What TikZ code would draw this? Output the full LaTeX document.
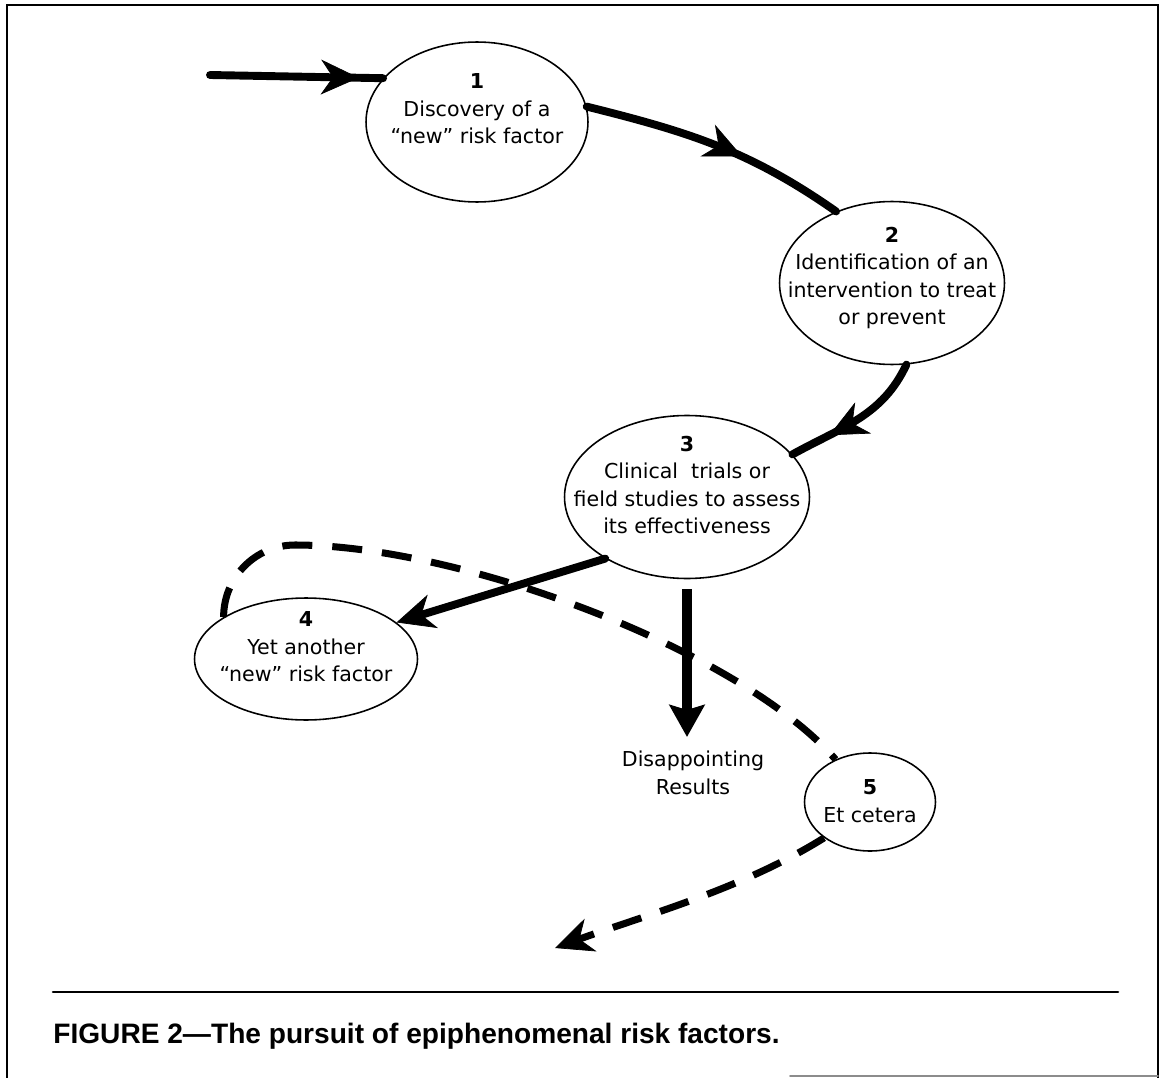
\documentclass[tikz,border=0pt]{standalone}
\usepackage{fontspec}
\setmainfont{DejaVu Sans}
\newfontfamily\capfont{Liberation Sans}
\usetikzlibrary{shapes.geometric,arrows.meta,decorations.markings}
\tikzset{barbtip/.tip={Stealth[length=0.76cm,width=0.7cm,inset=0.24cm,line width=0.4pt]}}

\begin{document}
\begin{tikzpicture}[x=0.02cm,y=-0.02cm,line cap=round,
	midarrow/.style={postaction={decorate},decoration={markings,mark=at position #1 with {\arrow{barbtip}}}}]
	\tikzstyle{oval}=[ellipse,draw,line width=0.9pt,inner sep=0pt]
	\tikzstyle{steptext}=[align=center,inner sep=0pt,font=\fontsize{11.7}{15.6}\selectfont]
	\tikzstyle{flow}=[line width=4.5pt]
	\tikzstyle{bigflow}=[line width=5.7pt,line cap=butt,-{Stealth[length=0.64cm,width=0.7cm,inset=0.1cm]}]
	\tikzstyle{dashflow}=[line width=4pt,line cap=butt,dash pattern=on 0.6cm off 0.4cm]
	\tikzstyle{frame}=[line width=1.1pt]

	\useasboundingbox (0,0) rectangle (1160,1078);
	\draw[frame] (7,1078) -- (7,5) -- (1158,5) -- (1158,1078);
	\draw[frame,black!45] (790,1076) -- (1158,1076);
	\draw[line width=1.5pt] (53,992) -- (1118,992);

	\node[oval,minimum width=4.44cm,minimum height=3.2cm] (e1) at (477,122) {};
	\node[oval,minimum width=4.5cm,minimum height=3.26cm] (e2) at (892,283) {};
	\node[oval,minimum width=4.9cm,minimum height=3.26cm] (e3) at (687,497) {};
	\node[oval,minimum width=4.46cm,minimum height=2.44cm] (e4) at (306,659) {};
	\node[oval,minimum width=2.62cm,minimum height=1.96cm] (e5) at (870,802) {};

	\node[steptext] (t1) at (477,109) {\textbf{1}\\Discovery of a\\“new” risk factor};
	\node[steptext] (t2) at (892,278) {\textbf{2}\\Identification of an\\intervention to treat\\or prevent};
	\node[steptext] (t3) at (687,485) {\textbf{3}\\Clinical\ \ trials or\\field studies to assess\\its effectiveness};
	\node[steptext] (t4) at (306,647) {\textbf{4}\\Yet another\\“new” risk factor};
	\node[steptext] (t5) at (870,801) {\textbf{5}\\Et cetera};
	\node[steptext,inner sep=4pt] (res) at (693,773) {Disappointing\\Results};

	\coordinate (start) at (210,75);
	\coordinate (loop) at (295,545);
	\coordinate (exit) at (555,948);

	\draw[flow,midarrow=.86] (start) -- (e1.155);
	\draw[flow,midarrow=.6] (e1.8) to[out=-14,in=145] (e2.128);
	\draw[flow,midarrow=.72] (e2.280) to[out=245,in=29] (e3.22);
	\draw[flow,-{barbtip}] (e3.217) -- (e4.22);
	\draw[bigflow,shorten <=0.2cm,shorten >=0.14cm] (e3.south) -- (e3.south |- res.north);
	\draw[dashflow] (e4.153) to[out=90,in=180] (loop) .. controls (460,545) and (740,650) .. (e5.129);
	\draw[dashflow,-{barbtip}] (e5.218) to[out=212,in=20,looseness=.85] (exit);

	\node[anchor=base west,inner sep=0pt,font=\capfont\bfseries\fontsize{16}{19}\selectfont] (cap) at (53,1043) {FIGURE 2—The pursuit of epiphenomenal risk factors.};
\end{tikzpicture}
\end{document}
